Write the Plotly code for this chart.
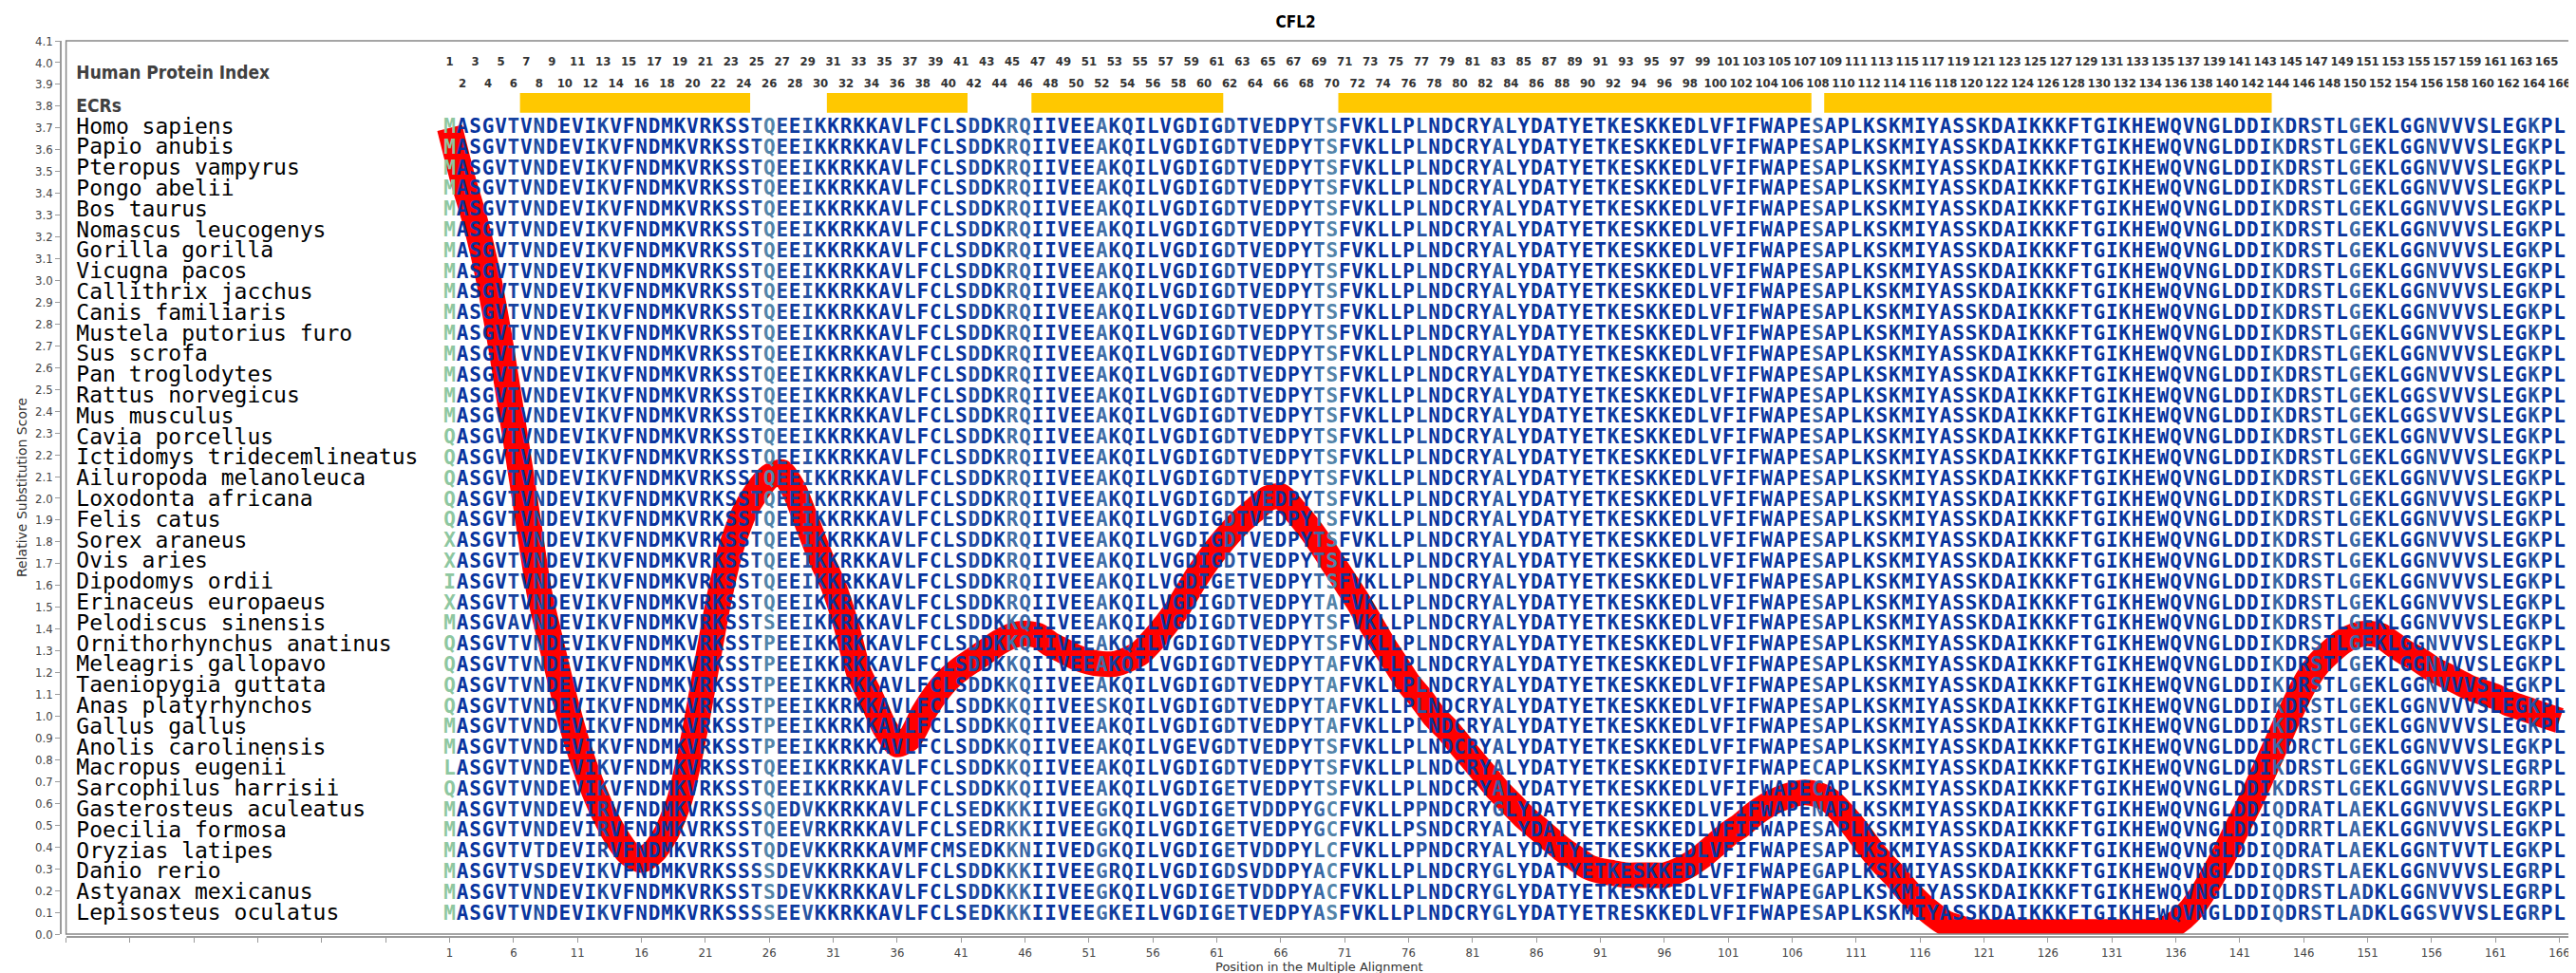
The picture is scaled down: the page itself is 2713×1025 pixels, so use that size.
import plotly.graph_objects as go

# ---------------- data ----------------
species = [
    "Homo sapiens", "Papio anubis", "Pteropus vampyrus", "Pongo abelii", "Bos taurus",
    "Nomascus leucogenys", "Gorilla gorilla", "Vicugna pacos", "Callithrix jacchus",
    "Canis familiaris", "Mustela putorius furo", "Sus scrofa", "Pan troglodytes",
    "Rattus norvegicus", "Mus musculus", "Cavia porcellus", "Ictidomys tridecemlineatus",
    "Ailuropoda melanoleuca", "Loxodonta africana", "Felis catus", "Sorex araneus",
    "Ovis aries", "Dipodomys ordii", "Erinaceus europaeus", "Pelodiscus sinensis",
    "Ornithorhynchus anatinus", "Meleagris gallopavo", "Taeniopygia guttata",
    "Anas platyrhynchos", "Gallus gallus", "Anolis carolinensis", "Macropus eugenii",
    "Sarcophilus harrisii", "Gasterosteus aculeatus", "Poecilia formosa",
    "Oryzias latipes", "Danio rerio", "Astyanax mexicanus", "Lepisosteus oculatus",
]

H = ("MASGVTVNDE" "VIKVFNDMKV" "RKSSTQEEIK" "KRKKAVLFCL" "SDDKRQIIVE" "EAKQILVGDI"
     "GDTVEDPYTS" "FVKLLPLNDC" "RYALYDATYE" "TKESKKEDLV" "FIFWAPESAP" "LKSKMIYASS"
     "KDAIKKKFTG" "IKHEWQVNGL" "DDIKDRSTLG" "EKLGGNVVVS" "LEGKPL")

sequences = [
    H, H, H, H, H, H, H, H, H, H, H, H, H,
    # Rattus norvegicus
    "MASGVTVNDE" "VIKVFNDMKV" "RKSSTQEEIK" "KRKKAVLFCL" "SDDKRQIIVE" "EAKQILVGDI" "GDTVEDPYTS" "FVKLLPLNDC" "RYALYDATYE" "TKESKKEDLV" "FIFWAPESAP" "LKSKMIYASS" "KDAIKKKFTG" "IKHEWQVNGL" "DDIKDRSTLG" "EKLGGSVVVS" "LEGKPL",
    # Mus musculus
    "MASGVTVNDE" "VIKVFNDMKV" "RKSSTQEEIK" "KRKKAVLFCL" "SDDKRQIIVE" "EAKQILVGDI" "GDTVEDPYTS" "FVKLLPLNDC" "RYALYDATYE" "TKESKKEDLV" "FIFWAPESAP" "LKSKMIYASS" "KDAIKKKFTG" "IKHEWQVNGL" "DDIKDRSTLG" "EKLGGSVVVS" "LEGKPL",
    # Cavia porcellus
    "QASGVTVNDE" "VIKVFNDMKV" "RKSSTQEEIK" "KRKKAVLFCL" "SDDKRQIIVE" "EAKQILVGDI" "GDTVEDPYTS" "FVKLLPLNDC" "RYALYDATYE" "TKESKKEDLV" "FIFWAPESAP" "LKSKMIYASS" "KDAIKKKFTG" "IKHEWQVNGL" "DDIKDRSTLG" "EKLGGNVVVS" "LEGKPL",
    # Ictidomys
    "QASGVTVNDE" "VIKVFNDMKV" "RKSSTQEEIK" "KRKKAVLFCL" "SDDKRQIIVE" "EAKQILVGDI" "GDTVEDPYTS" "FVKLLPLNDC" "RYALYDATYE" "TKESKKEDLV" "FIFWAPESAP" "LKSKMIYASS" "KDAIKKKFTG" "IKHEWQVNGL" "DDIKDRSTLG" "EKLGGNVVVS" "LEGKPL",
    # Ailuropoda
    "QASGVTVNDE" "VIKVFNDMKV" "RKSSTQEEIK" "KRKKAVLFCL" "SDDKRQIIVE" "EAKQILVGDI" "GDTVEDPYTS" "FVKLLPLNDC" "RYALYDATYE" "TKESKKEDLV" "FIFWAPESAP" "LKSKMIYASS" "KDAIKKKFTG" "IKHEWQVNGL" "DDIKDRSTLG" "EKLGGNVVVS" "LEGKPL",
    # Loxodonta
    "QASGVTVNDE" "VIKVFNDMKV" "RKSSTQEEIK" "KRKKAVLFCL" "SDDKRQIIVE" "EAKQILVGDI" "GDTVEDPYTS" "FVKLLPLNDC" "RYALYDATYE" "TKESKKEDLV" "FIFWAPESAP" "LKSKMIYASS" "KDAIKKKFTG" "IKHEWQVNGL" "DDIKDRSTLG" "EKLGGNVVVS" "LEGKPL",
    # Felis
    "QASGVTVNDE" "VIKVFNDMKV" "RKSSTQEEIK" "KRKKAVLFCL" "SDDKRQIIVE" "EAKQILVGDI" "GDTVEDPYTS" "FVKLLPLNDC" "RYALYDATYE" "TKESKKEDLV" "FIFWAPESAP" "LKSKMIYASS" "KDAIKKKFTG" "IKHEWQVNGL" "DDIKDRSTLG" "EKLGGNVVVS" "LEGKPL",
    # Sorex
    "XASGVTVNDE" "VIKVFNDMKV" "RKSSTQEEIK" "KRKKAVLFCL" "SDDKRQIIVE" "EAKQILVGDI" "GDTVEDPYTS" "FVKLLPLNDC" "RYALYDATYE" "TKESKKEDLV" "FIFWAPESAP" "LKSKMIYASS" "KDAIKKKFTG" "IKHEWQVNGL" "DDIKDRSTLG" "EKLGGNVVVS" "LEGKPL",
    # Ovis
    "XASGVTVNDE" "VIKVFNDMKV" "RKSSTQEEIK" "KRKKAVLFCL" "SDDKRQIIVE" "EAKQILVGDI" "GDTVEDPYTS" "FVKLLPLNDC" "RYALYDATYE" "TKESKKEDLV" "FIFWAPESAP" "LKSKMIYASS" "KDAIKKKFTG" "IKHEWQVNGL" "DDIKDRSTLG" "EKLGGNVVVS" "LEGKPL",
    # Dipodomys
    "IASGVTVNDE" "VIKVFNDMKV" "RKSSTQEEIK" "KRKKAVLFCL" "SDDKRQIIVE" "EAKQILVGDI" "GETVEDPYTS" "FVKLLPLNDC" "RYALYDATYE" "TKESKKEDLV" "FIFWAPESAP" "LKSKMIYASS" "KDAIKKKFTG" "IKHEWQVNGL" "DDIKDRSTLG" "EKLGGNVVVS" "LEGKPL",
    # Erinaceus
    "XASGVTVNDE" "VIKVFNDMKV" "RKSSTQEEIK" "KRKKAVLFCL" "SDDKRQIIVE" "EAKQILVGDI" "GDTVEDPYTA" "FVKLLPLNDC" "RYALYDATYE" "TKESKKEDLV" "FIFWAPESAP" "LKSKMIYASS" "KDAIKKKFTG" "IKHEWQVNGL" "DDIKDRSTLG" "EKLGGNVVVS" "LEGKPL",
    # Pelodiscus
    "MASGVAVNDE" "VIKVFNDMKV" "RKSSTSEEIK" "KRKKAVLFCL" "SDDKKQIIVE" "EAKQILVGDI" "GDTVEDPYTS" "FVKLLPLNDC" "RYALYDATYE" "TKESKKEDLV" "FIFWAPESAP" "LKSKMIYASS" "KDAIKKKFTG" "IKHEWQVNGL" "DDIKDRSTLG" "EKLGGNVVVS" "LEGKPL",
    # Ornithorhynchus
    "QASGVTVNDE" "VIKVFNDMKV" "RKSSTPEEIK" "KRKKAVLFCL" "SDDKKQIIVE" "EAKQILVGDI" "GDTVEDPYTS" "FVKLLPLNDC" "RYALYDATYE" "TKESKKEDLV" "FIFWAPESAP" "LKSKMIYASS" "KDAIKKKFTG" "IKHEWQVNGL" "DDIKDRSTLG" "EKLGGNVVVS" "LEGKPL",
    # Meleagris
    "QASGVTVNDE" "VIKVFNDMKV" "RKSSTPEEIK" "KRKKAVLFCL" "SDDKKQIIVE" "EAKQILVGDI" "GDTVEDPYTA" "FVKLLPLNDC" "RYALYDATYE" "TKESKKEDLV" "FIFWAPESAP" "LKSKMIYASS" "KDAIKKKFTG" "IKHEWQVNGL" "DDIKDRSTLG" "EKLGGNVVVS" "LEGKPL",
    # Taeniopygia
    "QASGVTVNDE" "VIKVFNDMKV" "RKSSTPEEIK" "KRKKAVLFCL" "SDDKKQIIVE" "EAKQILVGDI" "GDTVEDPYTA" "FVKLLPLNDC" "RYALYDATYE" "TKESKKEDLV" "FIFWAPESAP" "LKSKMIYASS" "KDAIKKKFTG" "IKHEWQVNGL" "DDIKDRSTLG" "EKLGGNVVVS" "LEGKPL",
    # Anas
    "QASGVTVNDE" "VIKVFNDMKV" "RKSSTPEEIK" "KRKKAVLFCL" "SDDKKQIIVE" "ESKQILVGDI" "GDTVEDPYTA" "FVKLLPLNDC" "RYALYDATYE" "TKESKKEDLV" "FIFWAPESAP" "LKSKMIYASS" "KDAIKKKFTG" "IKHEWQVNGL" "DDIKDRSTLG" "EKLGGNVVVS" "LEGKPL",
    # Gallus
    "MASGVTVNDE" "VIKVFNDMKV" "RKSSTPEEIK" "KRKKAVLFCL" "SDDKKQIIVE" "EAKQILVGDI" "GDTVEDPYTA" "FVKLLPLNDC" "RYALYDATYE" "TKESKKEDLV" "FIFWAPESAP" "LKSKMIYASS" "KDAIKKKFTG" "IKHEWQVNGL" "DDIKDRSTLG" "EKLGGNVVVS" "LEGKPL",
    # Anolis
    "MASGVTVNDE" "VIKVFNDMKV" "RKSSTPEEIK" "KRKKAVLFCL" "SDDKKQIIVE" "EAKQILVGEV" "GDTVEDPYTS" "FVKLLPLNDC" "RYALYDATYE" "TKESKKEDLV" "FIFWAPESAP" "LKSKMIYASS" "KDAIKKKFTG" "IKHEWQVNGL" "DDIKDRCTLG" "EKLGGNVVVS" "LEGKPL",
    # Macropus
    "LASGVTVNDE" "VIKVFNDMKV" "RKSSTQEEIK" "KRKKAVLFCL" "SDDKKQIIVE" "EAKQILVGDI" "GDTVEDPYTS" "FVKLLPLNDC" "RYALYDATYE" "TKESKKEDIV" "FIFWAPECAP" "LKSKMIYASS" "KDAIKKKFTG" "IKHEWQVNGL" "DDIKDRSTLG" "EKLGGNVVVS" "LEGRPL",
    # Sarcophilus
    "QASGVTVNDE" "VIKVFNDMKV" "RKSSTQEEIK" "KRKKAVLFCL" "SDDKKQIIVE" "EAKQILVGDI" "GETVEDPYTS" "FVKLLPLNDC" "RYALYDATYE" "TKESKKEDLV" "FIFWAPECAP" "LKSKMIYASS" "KDAIKKKFTG" "IKHEWQVNGL" "DDIKDRSTLG" "EKLGGNVVVS" "LEGRPL",
    # Gasterosteus
    "MASGVTVNDE" "VIRVFNDMKV" "RKSSSQEDVK" "KRKKAVLFCL" "SEDKKKIIVE" "EGKQILVGDI" "GETVDDPYGC" "FVKLLPPNDC" "RYGLYDATYE" "TKESKKEDLV" "FIFWAPENAP" "LKSKMIYASS" "KDAIKKKFTG" "IKHEWQVNGL" "DDIQDRATLA" "EKLGGNVVVS" "LEGKPL",
    # Poecilia
    "MASGVTVNDE" "VIRVFNDMKV" "RKSSTQEEVR" "KRKKAVLFCL" "SEDRKKIIVE" "EGKQILVGDI" "GETVEDPYGC" "FVKLLPSNDC" "RYALYDATYE" "TKESKKEDLV" "FIFWAPESAP" "LKSKMIYASS" "KDAIKKKFTG" "IKHEWQVNGL" "DDIQDRRTLA" "EKLGGNVVVS" "LEGKPL",
    # Oryzias
    "MASGVTVTDE" "VIRVFNDMKV" "RKSSTQDEVK" "KRKKAVMFCM" "SEDKKNIIVE" "DGKQILVGDI" "GETVDDPYLC" "FVKLLPPNDC" "RYALYDATYE" "TKESKKEDLV" "FIFWAPESAP" "LKSKMIYASS" "KDAIKKKFTG" "IKHEWQVNGL" "DDIQDRATLA" "EKLGGNTVVT" "LEGKPL",
    # Danio
    "MASGVTVSDE" "VIKVFNDMKV" "RKSSSSDEVK" "KRKKAVLFCL" "SDDKKKIIVE" "EGRQILVGDI" "GDSVDDPYAC" "FVKLLPLNDC" "RYGLYDATYE" "TKESKKEDLV" "FIFWAPEGAP" "LKSKMIYASS" "KDAIKKKFTG" "IKHEWQVNGL" "DDIQDRSTLA" "EKLGGNVVVS" "LEGRPL",
    # Astyanax
    "MASGVTVNDE" "VIKVFNDMKV" "RKSSTSDEVK" "KRKKAVLFCL" "SDDKKKIIVE" "EGKQILVGDI" "GETVDDPYAC" "FVKLLPLNDC" "RYGLYDATYE" "TKESKKEDLV" "FIFWAPEGAP" "LKSKMIYASS" "KDAIKKKFTG" "IKHEWQVNGL" "DDIQDRSTLA" "DKLGGNVVVS" "LEGRPL",
    # Lepisosteus
    "MASGVTVNDE" "VIKVFNDMKV" "RKSSSSEEVK" "KRKKAVLFCL" "SEDKKKIIVE" "EGKEILVGDI" "GETVEDPYAS" "FVKLLPLNDC" "RYGLYDATYE" "TRESKKEDLV" "FIFWAPESAP" "LKSKMIYASS" "KDAIKKKFTG" "IKHEWQVNGL" "DDIQDRSTLA" "DKLGGSVVVS" "LEGRPL",
]

# ECRs (evolutionarily conserved regions), human protein positions
ecr_start = [7, 31, 47, 71, 109]
ecr_end = [24, 41, 61, 107, 143]

# Relative substitution score curve
score_pos = list(range(1, 167))
score_val = [
    3.70, 3.47, 3.27, 3.02, 2.70, 2.33, 1.95, 1.57, 1.32, 1.08,   # 1-10
    0.87, 0.70, 0.56, 0.45, 0.37, 0.34, 0.38, 0.47, 0.62, 0.88,   # 11-20
    1.20, 1.52, 1.77, 1.93, 2.03, 2.10, 2.12, 2.03, 1.88, 1.73,   # 21-30
    1.60, 1.42, 1.20, 1.08, 0.95, 0.87, 0.90, 1.01, 1.10, 1.17,   # 31-40
    1.22, 1.26, 1.30, 1.34, 1.37, 1.38, 1.37, 1.33, 1.30, 1.27,   # 41-50
    1.25, 1.24, 1.24, 1.26, 1.29, 1.35, 1.42, 1.50, 1.60, 1.69,   # 51-60
    1.77, 1.84, 1.90, 1.95, 2.00, 2.01, 1.95, 1.88, 1.80, 1.71,   # 61-70
    1.62, 1.53, 1.43, 1.33, 1.24, 1.15, 1.08, 1.00, 0.94, 0.87,   # 71-80
    0.80, 0.73, 0.66, 0.60, 0.54, 0.49, 0.44, 0.39, 0.35, 0.31,   # 81-90
    0.29, 0.28, 0.27, 0.27, 0.27, 0.27, 0.29, 0.32, 0.36, 0.41,   # 91-100
    0.46, 0.50, 0.55, 0.59, 0.62, 0.64, 0.65, 0.64, 0.61, 0.55,   # 101-110
    0.48, 0.40, 0.33, 0.27, 0.20, 0.14, 0.09, 0.05, 0.03, 0.01,   # 111-120
    0.01, 0.01, 0.01, 0.01, 0.01, 0.01, 0.01, 0.01, 0.01, 0.01,   # 121-130
    0.01, 0.01, 0.01, 0.01, 0.02, 0.05, 0.10, 0.18, 0.28, 0.39,   # 131-140
    0.51, 0.63, 0.76, 0.89, 1.02, 1.14, 1.23, 1.29, 1.34, 1.37,   # 141-150
    1.38, 1.37, 1.33, 1.29, 1.26, 1.22, 1.19, 1.16, 1.13, 1.11,   # 151-160
    1.09, 1.06, 1.04, 1.02, 1.00, 0.98,                           # 161-166
]

y_ticks = [i / 10 for i in range(0, 42)]
x_ticks = list(range(-29, 167, 5))

# ---------------- styling helpers ----------------
ROW_TOP = 3.7
ROW_STEP = 0.095
SEQ_FONT = "DejaVu Sans Mono, monospace"
NUM_FONT = "DejaVu Sans Condensed, DejaVu Sans, sans-serif"
LABEL_FONT = "DejaVu Sans Condensed, DejaVu Sans, sans-serif"

groups = ["KR", "DE", "ST", "ILVM", "FYW", "NQ"]


def sim(a, b):
    if a == b and a != "X":
        return 1.0
    for g in groups:
        if a in g and b in g:
            return 0.5
    return 0.0


stops = [(0.0, (143, 200, 160)), (0.64, (143, 200, 160)), (0.70, (105, 160, 170)),
         (0.76, (75, 122, 168)), (0.90, (48, 92, 165)), (0.97, (25, 70, 160)),
         (1.0, (8, 52, 158))]


def color_for(s):
    for (s0, c0), (s1, c1) in zip(stops[:-1], stops[1:]):
        if s <= s1:
            t = 0 if s1 == s0 else (s - s0) / (s1 - s0)
            t = max(0.0, min(1.0, t))
            c = [round(c0[k] + (c1[k] - c0[k]) * t) for k in range(3)]
            return "rgb(%d,%d,%d)" % tuple(c)
    return "rgb(%d,%d,%d)" % stops[-1][1]


n_pos = len(H)
col_colors = []
for j in range(n_pos):
    col = [s[j] for s in sequences]
    cons = max(set(col), key=col.count)
    score = sum(sim(c, cons) for c in col) / len(col)
    col_colors.append(color_for(score))

fig = go.Figure()

# ECR bars
fig.add_trace(go.Bar(
    orientation="h",
    y=[3.815] * len(ecr_start),
    base=[s - 0.5 for s in ecr_start],
    x=[e - s + 1 for s, e in zip(ecr_start, ecr_end)],
    width=0.09,
    marker=dict(color="#ffc800", line=dict(width=0)),
    hoverinfo="skip",
))

# Red substitution score curve
fig.add_trace(go.Scatter(
    x=score_pos, y=score_val, mode="lines",
    line=dict(color="#ff0000", width=27, shape="spline", smoothing=0.6),
    hoverinfo="skip",
))

# Sequence letters
positions = list(range(1, n_pos + 1))
for i, seq in enumerate(sequences):
    assert len(seq) == n_pos, (species[i], len(seq))
    fig.add_trace(go.Scatter(
        x=positions, y=[ROW_TOP - ROW_STEP * i] * n_pos,
        mode="text", text=list(seq), textposition="middle center",
        textfont=dict(family=SEQ_FONT, size=21, color=col_colors, weight="bold"),
        hoverinfo="skip", cliponaxis=False,
    ))

# Species names
fig.add_trace(go.Scatter(
    x=[-28.2] * len(species), y=[ROW_TOP - ROW_STEP * i for i in range(len(species))],
    mode="text", text=species, textposition="middle right",
    textfont=dict(family="DejaVu Sans Mono, monospace", size=23, color="black"),
    hoverinfo="skip",
))

# Human protein index numbers
odd = [p for p in positions if p % 2 == 1]
even = [p for p in positions if p % 2 == 0]
for pts, yv in ((odd, 4.0), (even, 3.9)):
    fig.add_trace(go.Scatter(
        x=pts, y=[yv] * len(pts), mode="text", text=[str(p) for p in pts],
        textposition="middle center",
        textfont=dict(family=NUM_FONT, size=13, color="#333333", weight="bold"),
        hoverinfo="skip",
    ))

# Row header labels
fig.add_trace(go.Scatter(
    x=[-28.2, -28.2], y=[3.945, 3.795], mode="text",
    text=["Human Protein Index", "ECRs"], textposition="middle right",
    textfont=dict(family=LABEL_FONT, size=19, color="#404040", weight="bold"),
    hoverinfo="skip",
))

x_dom0 = (61.6 - 56) / (2713 - 56 - 12)
y_dom0 = 3 / (1025 - 35 - 46)

fig.update_layout(
    width=2713, height=1025,
    margin=dict(l=56, r=12, t=35, b=46),
    paper_bgcolor="white", plot_bgcolor="white",
    showlegend=False,
    title=dict(text="<b>CFL2</b>", x=0.5, xref="container", xanchor="center",
               y=1 - 15 / 1025, yref="container", yanchor="middle",
               font=dict(family=LABEL_FONT, size=17, color="black")),
    xaxis=dict(
        domain=[x_dom0, 1], range=[-29, 167], anchor="free", position=0,
        showline=True, linecolor="#9a9a9a", linewidth=1.5,
        ticks="outside", ticklen=5, tickcolor="#9a9a9a",
        tickvals=x_ticks, ticktext=[str(v) if v >= 1 else "" for v in x_ticks],
        tickfont=dict(family=LABEL_FONT, size=13, color="#444444"),
        showgrid=False, zeroline=False,
        title=dict(text="Position in the Multiple Alignment", standoff=2,
                   font=dict(family="DejaVu Sans, sans-serif", size=13, color="#333333")),
    ),
    yaxis=dict(
        domain=[y_dom0, 1], range=[0, 4.1], anchor="free", position=0,
        showline=True, linecolor="#9a9a9a", linewidth=1.5,
        ticks="outside", ticklen=5, tickcolor="#9a9a9a",
        tickvals=y_ticks, ticktext=["%.1f" % v for v in y_ticks],
        tickfont=dict(family=LABEL_FONT, size=13, color="#444444"),
        showgrid=False, zeroline=False,
        title=dict(text="Relative Substitution Score", standoff=4,
                   font=dict(family="DejaVu Sans, sans-serif", size=14, color="#333333")),
    ),
    shapes=[dict(type="rect", xref="paper", yref="paper", x0=x_dom0, x1=1, y0=y_dom0, y1=1,
                 line=dict(color="#888888", width=1.5), fillcolor="rgba(0,0,0,0)", layer="above")],
)

fig.write_html("out.html")
